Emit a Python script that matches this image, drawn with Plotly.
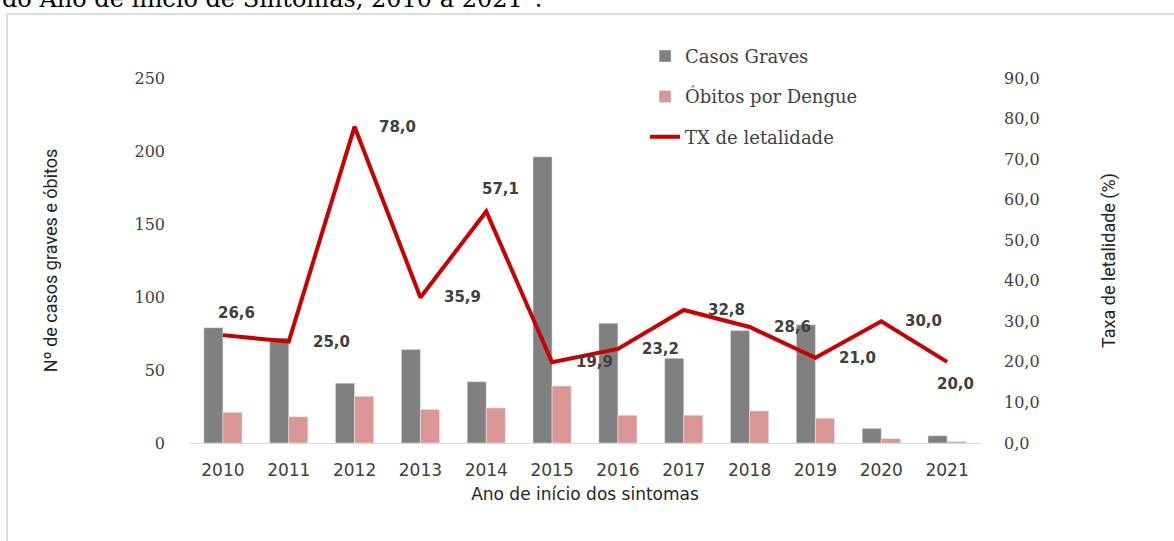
import plotly.graph_objects as go

# dados
anos = ["2010", "2011", "2012", "2013", "2014", "2015",
        "2016", "2017", "2018", "2019", "2020", "2021"]
casos_graves = [79, 72, 41, 64, 42, 196, 82, 58, 77, 81, 10, 5]
obitos = [21, 18, 32, 23, 24, 39, 19, 19, 22, 17, 3, 1]
tx_letalidade = [26.6, 25.0, 78.0, 35.9, 57.1, 19.9, 23.2, 32.8, 28.6, 21.0, 30.0, 20.0]

# onde fica cada rótulo da taxa (acima / à direita / abaixo)
pos_rotulo = ["acima", "direita", "direita", "direita", "acima", "direita",
              "direita", "direita", "direita", "direita", "direita", "abaixo"]

cinza_txt = "#404040"

fig = go.Figure()
fig.add_trace(go.Bar(x=anos, y=casos_graves, name="Casos Graves",
                     marker_color="#808080", legendgroup="a"))
fig.add_trace(go.Bar(x=anos, y=obitos, name="Óbitos por Dengue",
                     marker_color="#DA9694", legendgroup="b"))
fig.add_trace(go.Scatter(x=anos, y=tx_letalidade, name="TX de letalidade",
                         mode="lines", line=dict(color="#C80000", width=4),
                         yaxis="y2", legendgroup="c"))

# rótulos da taxa (x pelo índice da categoria, senão o eixo lê "2010" como número)
for i, (v, p) in enumerate(zip(tx_letalidade, pos_rotulo)):
    txt = f"{v:.1f}".replace(".", ",")
    if p == "direita":
        kw = dict(xanchor="left", xshift=22, yshift=0)
    elif p == "acima":
        kw = dict(xanchor="center", xshift=14, yshift=22)
    else:
        kw = dict(xanchor="center", xshift=8, yshift=-22)
    fig.add_annotation(x=i, y=v, xref="x", yref="y2", text=txt, showarrow=False,
                       yanchor="middle",
                       font=dict(family="DejaVu Sans", size=15, color=cinza_txt, weight="bold"),
                       **kw)

# pedaço do título que aparece cortado no topo
fig.add_annotation(xref="paper", yref="paper", x=-0.2405, y=1.2164,
                   xanchor="left", yanchor="middle", showarrow=False,
                   text="do Ano de início de Sintomas, 2010 a 2021*.",
                   font=dict(family="DejaVu Serif", size=24, color="#000000"))

# moldura
fig.add_shape(type="rect", xref="paper", yref="paper",
              x0=-0.2316, x1=1.4, y0=-0.5, y1=1.1753,
              line=dict(color="#dcdcdc", width=2), fillcolor="rgba(0,0,0,0)")

fig.update_layout(
    width=1174, height=541,
    margin=dict(l=190, r=194, t=78, b=98),
    paper_bgcolor="white", plot_bgcolor="white",
    separators=",.",
    barmode="group", bargap=0.42, bargroupgap=0,
    showlegend=True,
    legend=dict(x=0.576, y=1.11, xanchor="left", yanchor="top",
                traceorder="grouped", tracegroupgap=14,
                font=dict(family="DejaVu Serif", size=18, color=cinza_txt),
                bgcolor="rgba(0,0,0,0)"),
    xaxis=dict(type="category", range=[-0.5, 11.5], showgrid=False, showline=True,
               linecolor="#d9d9d9", linewidth=1, ticks="",
               ticklabelstandoff=12,
               tickfont=dict(family="DejaVu Sans", size=17, color=cinza_txt),
               title=dict(text="Ano de início dos sintomas", standoff=8,
                          font=dict(family="DejaVu Sans", size=17, color="#262626"))),
    yaxis=dict(range=[0, 250], dtick=50, showgrid=False, zeroline=False,
               showline=False, ticks="", ticklabelstandoff=24,
               tickfont=dict(family="DejaVu Serif", size=16, color=cinza_txt),
               title=dict(text="Nº de casos graves e óbitos", standoff=72,
                          font=dict(family="Liberation Sans Narrow, Roboto", size=18,
                                    color="#262626"))),
    yaxis2=dict(range=[0, 90], dtick=10, tickformat=".1f", overlaying="y",
                side="right", showgrid=False, zeroline=False, showline=False,
                ticks="", ticklabelstandoff=23,
                tickfont=dict(family="DejaVu Serif", size=16, color=cinza_txt),
                title=dict(text="Taxa de letalidade (%)", standoff=63,
                           font=dict(family="Liberation Sans Narrow, Roboto", size=18,
                                     color="#262626"))),
)

# sem a margem padrão do body, a figura fica colada no canto da página
fig.write_html("out.html", config={"displayModeBar": False},
               post_script="document.body.style.margin='0';")
